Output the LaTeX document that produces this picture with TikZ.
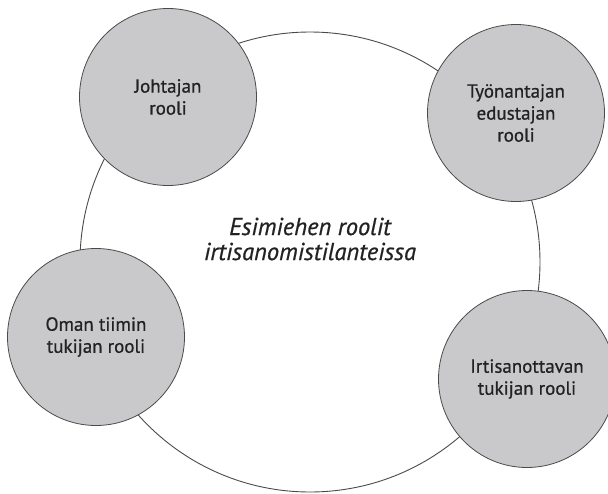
\documentclass[tikz,border=0pt]{standalone}
\usepackage{fontspec}
\setmainfont{PT Sans}[FakeBold=0.7]
\usetikzlibrary{positioning}
\definecolor{ballfill}{HTML}{C9C9CB}
\definecolor{edgegray}{HTML}{4A4A4A}
\definecolor{textdark}{HTML}{222222}
\tikzset{
  roleball/.style={circle,draw=edgegray,line width=0.8pt,fill=ballfill,minimum size=177pt,
    inner sep=0pt,align=center,text=textdark,font=\fontsize{19}{22}\selectfont},
  ringline/.style={circle,draw=edgegray,line width=0.9pt,minimum size=460pt,inner sep=0pt}
}

\begin{document}
\begin{tikzpicture}[x=1pt,y=-1pt]
  \useasboundingbox (0,0) rectangle (608,493);
  % outer ring
  \node[ringline] (ring) at (310,262) {};
  \node[font=\itshape\fontsize{24.5}{25}\selectfont,text=textdark,align=center] (title) at (310,239)
    {Esimiehen roolit\\irtisanomistilanteissa};
  % the four roles
  \node[roleball] (leader) at (168,97) {Johtajan\\rooli};
  \node[roleball] (employer) at (516,113) {Työnantajan\\edustajan\\rooli};
  \node[roleball] (team) at (96,337) {Oman tiimin\\tukijan rooli};
  \node[roleball] (dismissed) at (527,379) {Irtisanottavan\\tukijan rooli};
\end{tikzpicture}
\end{document}
